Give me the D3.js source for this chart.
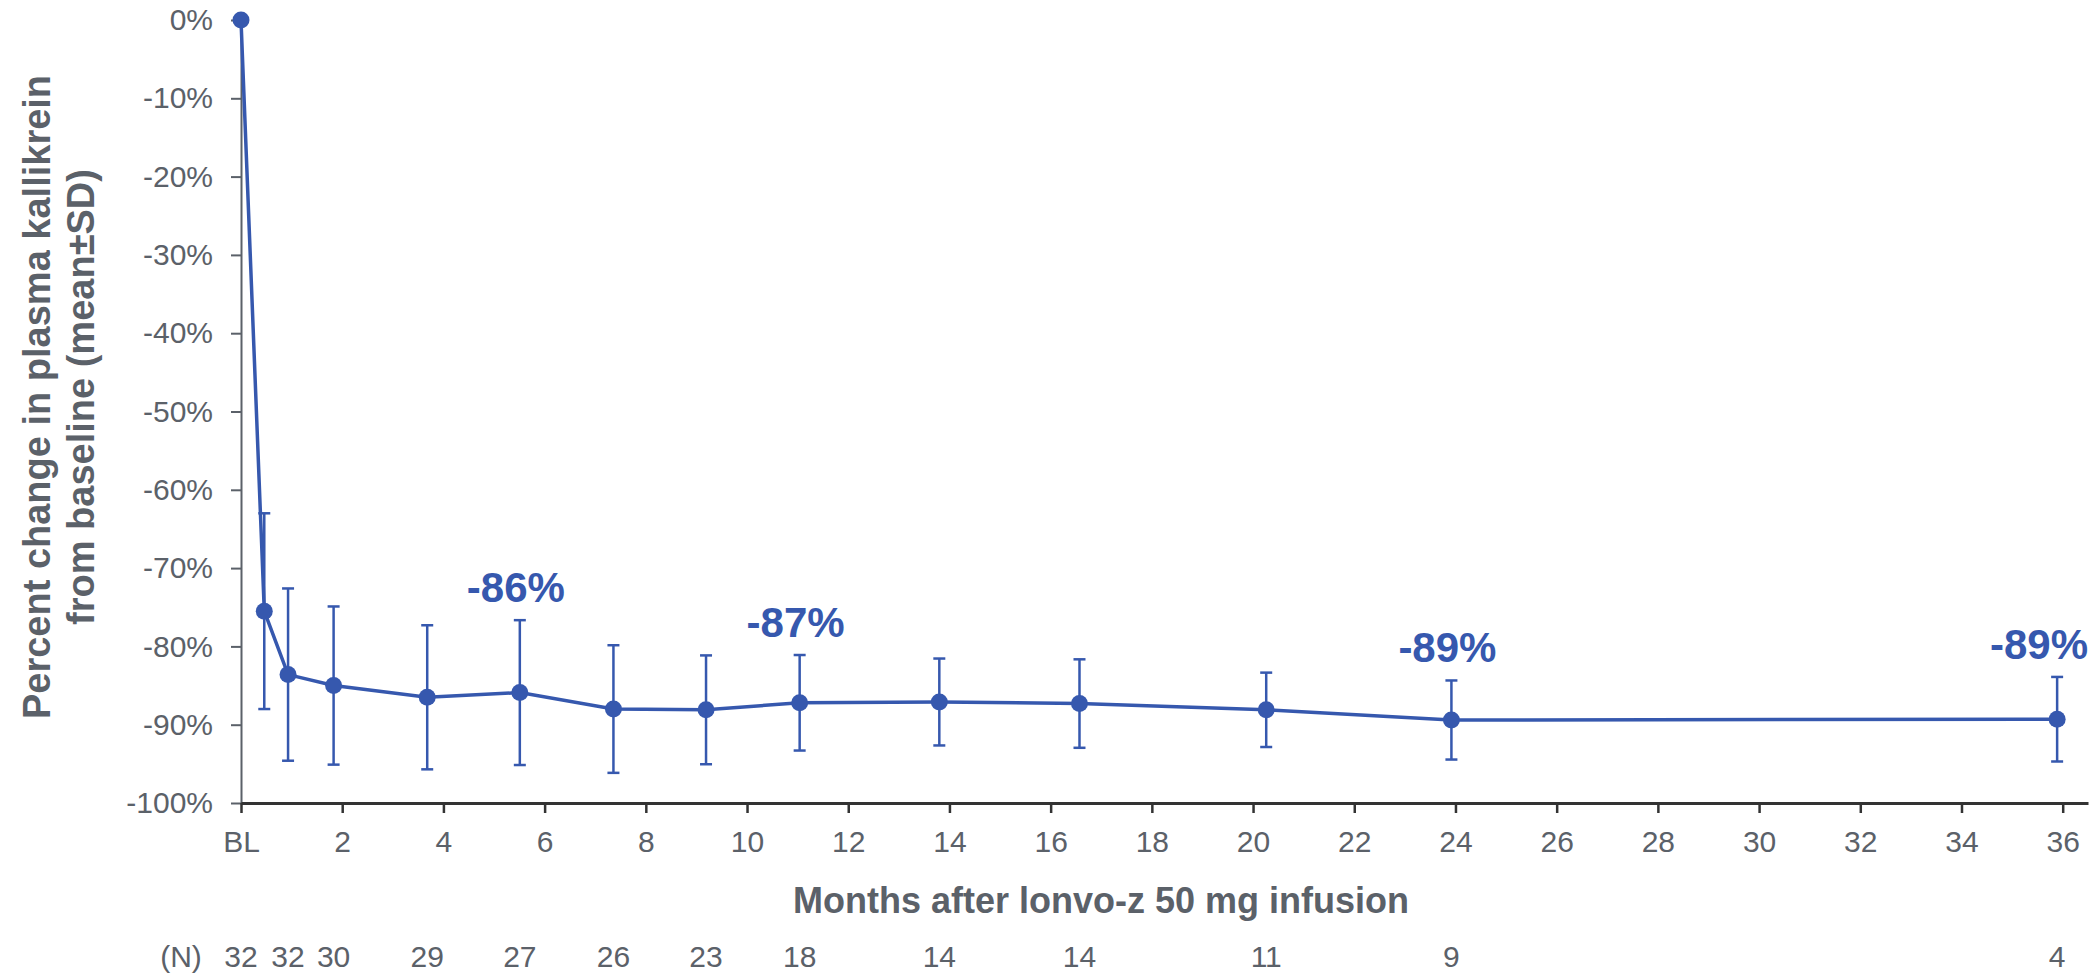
<!DOCTYPE html>
<html lang="en">
  <head>
    <meta charset="utf-8">
    <title>Plasma kallikrein</title>
    <script src="https://d3js.org/d3.v7.min.js"></script>
    <style>
      body { margin: 0; background: #fff; }
      svg text { font-family: "Liberation Sans", Arial, sans-serif; }
    </style>
  </head>
<body>

<script>
// months after infusion for each visit (BL = 0)
var months = [0, 0.46, 0.93, 1.83, 3.68, 5.51, 7.36, 9.19, 11.04, 13.80, 16.57, 20.26, 23.92, 35.89];
// mean percent change from baseline
var means = [0, -75.5, -83.6, -85.0, -86.5, -85.9, -88.0, -88.1, -87.2, -87.1, -87.3, -88.1, -89.4, -89.3];
// standard deviation
var sds = [0, 12.5, 11.0, 10.1, 9.2, 9.25, 8.15, 6.95, 6.1, 5.55, 5.65, 4.75, 5.05, 5.4];
// number of patients per visit ("" = not shown)
var nValues = ["32", "", "32", "30", "29", "27", "26", "23", "18", "14", "14", "11", "9", "4"];
// callouts
var calloutIndex = [5, 8, 12, 13];
var calloutText = ["-86%", "-87%", "-89%", "-89%"];

var xTicks = d3.range(0, 37, 2);
var yTicks = d3.range(-100, 1, 10);

var W = 2091, H = 974;
var blue = "#3658ae", grey = "#5b6169";

var svg = d3.select("body").append("svg")
    .attr("width", W)
    .attr("height", H);

var x = d3.scaleLinear().domain([0, 36.5]).range([241, 2088]);
var y = d3.scaleLinear().domain([-100, 0]).range([803, 20]);

// y axis
var yAxis = svg.append("g")
    .attr("transform", "translate(241,0)")
    .call(d3.axisLeft(y).tickValues(yTicks).tickSize(10).tickSizeOuter(0).tickPadding(18)
        .tickFormat(d => d + "%"));
yAxis.select(".domain").attr("stroke", grey).attr("stroke-width", 2);
yAxis.selectAll(".tick line").attr("stroke", grey).attr("stroke-width", 2);
yAxis.selectAll("text").attr("fill", grey).style("font-size", "30px");

// x axis
var xAxis = svg.append("g")
    .attr("transform", "translate(0,803)")
    .call(d3.axisBottom(x).tickValues(xTicks).tickSize(10).tickSizeOuter(0).tickPadding(18)
        .tickFormat(d => d === 0 ? "BL" : d));
xAxis.select(".domain").attr("stroke", "#333").attr("stroke-width", 3);
xAxis.selectAll(".tick line").attr("stroke", "#333").attr("stroke-width", 2.5);
xAxis.selectAll("text").attr("fill", grey).style("font-size", "30px");

// axis titles
svg.append("text")
    .attr("x", 1101).attr("y", 913)
    .attr("text-anchor", "middle")
    .attr("fill", grey)
    .style("font-size", "36px").style("font-weight", "bold")
    .text("Months after lonvo-z 50 mg infusion");

var yTitle = svg.append("text")
    .attr("transform", "translate(50,397) rotate(-90)")
    .attr("text-anchor", "middle")
    .attr("fill", grey)
    .style("font-size", "38px").style("font-weight", "bold");
yTitle.append("tspan").attr("x", 0).attr("dy", 0).text("Percent change in plasma kallikrein");
yTitle.append("tspan").attr("x", 0).attr("dy", 44).text("from baseline (mean±SD)");

// N row
svg.append("text")
    .attr("x", 181).attr("y", 967)
    .attr("text-anchor", "middle")
    .attr("fill", grey)
    .style("font-size", "30px")
    .text("(N)");
svg.selectAll(".nval")
    .data(months)
    .join("text")
    .attr("class", "nval")
    .attr("x", d => x(d))
    .attr("y", 967)
    .attr("text-anchor", "middle")
    .attr("fill", grey)
    .style("font-size", "30px")
    .text((d, i) => nValues[i]);

// error bars
var bars = svg.append("g")
    .selectAll("g")
    .data(months.slice(1))
    .join("g")
    .attr("stroke", blue)
    .attr("stroke-width", 2.5);
bars.append("line")
    .attr("x1", d => x(d)).attr("x2", d => x(d))
    .attr("y1", (d, i) => y(means[i + 1] + sds[i + 1]))
    .attr("y2", (d, i) => y(means[i + 1] - sds[i + 1]));
bars.append("line")
    .attr("x1", d => x(d) - 6).attr("x2", d => x(d) + 6)
    .attr("y1", (d, i) => y(means[i + 1] + sds[i + 1]))
    .attr("y2", (d, i) => y(means[i + 1] + sds[i + 1]));
bars.append("line")
    .attr("x1", d => x(d) - 6).attr("x2", d => x(d) + 6)
    .attr("y1", (d, i) => y(means[i + 1] - sds[i + 1]))
    .attr("y2", (d, i) => y(means[i + 1] - sds[i + 1]));

// mean line
var line = d3.line()
    .x(d => x(d[0]))
    .y(d => y(d[1]));
svg.append("path")
    .datum(d3.zip(months, means))
    .attr("d", line)
    .attr("fill", "none")
    .attr("stroke", blue)
    .attr("stroke-width", 3.5);

svg.selectAll(".dot")
    .data(d3.zip(months, means))
    .join("circle")
    .attr("class", "dot")
    .attr("cx", d => x(d[0]))
    .attr("cy", d => y(d[1]))
    .attr("r", 8.5)
    .attr("fill", blue);

// callouts
svg.selectAll(".callout")
    .data(calloutIndex)
    .join("text")
    .attr("class", "callout")
    .attr("x", (d, i) => i === calloutIndex.length - 1 ? 2088 : x(months[d]) - 4)
    .attr("y", d => y(means[d] + sds[d]) - 18)
    .attr("text-anchor", (d, i) => i === calloutIndex.length - 1 ? "end" : "middle")
    .attr("fill", blue)
    .style("font-size", "42px").style("font-weight", "bold")
    .text((d, i) => calloutText[i]);
</script>
</body>
</html>
